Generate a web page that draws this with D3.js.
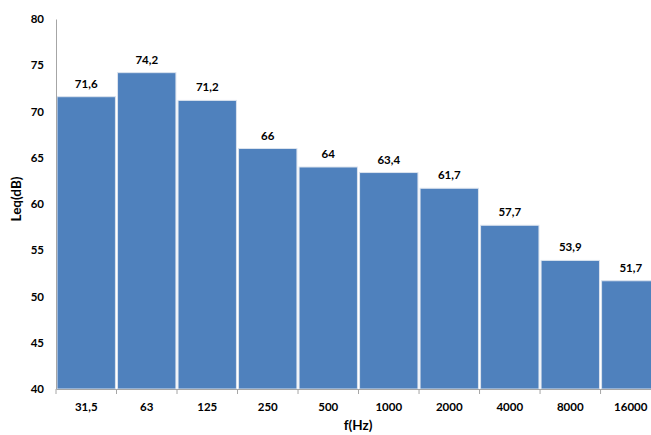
<!DOCTYPE html>
<html>
<head>
<meta charset="utf-8">
<script src="https://cdn.jsdelivr.net/npm/d3@7"></script>
<style>
  body { margin: 0; background: #fff; }
  svg { display: block; overflow: hidden; }
  text { font-family: Lato, "Open Sans", sans-serif; font-weight: bold; fill: #000; }
</style>
</head>
<body>
<div id="chart"></div>
<script>
// Data
var bands = ["31,5", "63", "125", "250", "500", "1000", "2000", "4000", "8000", "16000"];
var leq = [71.6, 74.2, 71.2, 66, 64, 63.4, 61.7, 57.7, 53.9, 51.7];
var yTicks = [40, 45, 50, 55, 60, 65, 70, 75, 80];

var width = 651, height = 435;
var margin = { left: 56, top: 19, right: -10, bottom: 46 };
var plotW = width - margin.left - margin.right,
    plotH = height - margin.top - margin.bottom;

var svg = d3.select("#chart").append("svg")
    .attr("width", width)
    .attr("height", height);

var g = svg.append("g")
    .attr("transform", "translate(" + margin.left + "," + margin.top + ")");

var x = d3.scaleBand()
    .domain(bands)
    .range([0, plotW])
    .paddingInner(0.035)
    .paddingOuter(0.017);

var y = d3.scaleLinear()
    .domain([40, 80])
    .range([plotH, 0]);

var fmt = function(v) { return String(v).replace(".", ","); };

// Bars
g.selectAll("rect.bar")
    .data(leq)
    .enter().append("rect")
    .attr("class", "bar")
    .attr("x", function(d, i) { return x(bands[i]); })
    .attr("y", function(d) { return y(d); })
    .attr("width", x.bandwidth())
    .attr("height", function(d) { return plotH - y(d); })
    .style("fill", "#4F81BD")
    .style("stroke", "#dbe3ee")
    .style("stroke-width", 1);

// Value labels
g.selectAll("text.value")
    .data(leq)
    .enter().append("text")
    .attr("class", "value")
    .attr("x", function(d, i) { return x(bands[i]) + x.bandwidth() / 2; })
    .attr("y", function(d) { return y(d) - 9; })
    .attr("text-anchor", "middle")
    .style("font-size", "11.5px")
    .text(fmt);

// Y axis
var yAxis = g.append("g")
    .call(d3.axisLeft(y).tickValues(yTicks).tickSize(0).tickPadding(12));
yAxis.select(".domain").attr("stroke", "#a6a6a6");
yAxis.selectAll("text")
    .style("font-size", "11.5px")
    .style("font-family", "Lato, 'Open Sans', sans-serif");

// X axis with boundary ticks
var xAxis = g.append("g")
    .attr("transform", "translate(0," + plotH + ")")
    .call(d3.axisBottom(x).tickSize(0).tickPadding(14));
xAxis.select(".domain").attr("stroke", "#a6a6a6");
xAxis.selectAll("text")
    .style("font-size", "11.5px")
    .style("font-family", "Lato, 'Open Sans', sans-serif");

var step = x.step();
xAxis.selectAll("line.boundary")
    .data(d3.range(bands.length + 1))
    .enter().append("line")
    .attr("class", "boundary")
    .attr("x1", function(i) { return i * step; })
    .attr("x2", function(i) { return i * step; })
    .attr("y1", 0)
    .attr("y2", 5)
    .attr("stroke", "#a6a6a6");

// Axis titles
svg.append("text")
    .attr("transform", "translate(21,199) rotate(-90)")
    .attr("text-anchor", "middle")
    .style("font-size", "13.5px")
    .text("Leq(dB)");

svg.append("text")
    .attr("x", 358)
    .attr("y", 430)
    .attr("text-anchor", "middle")
    .style("font-size", "13.5px")
    .text("f(Hz)");
</script>
</body>
</html>
